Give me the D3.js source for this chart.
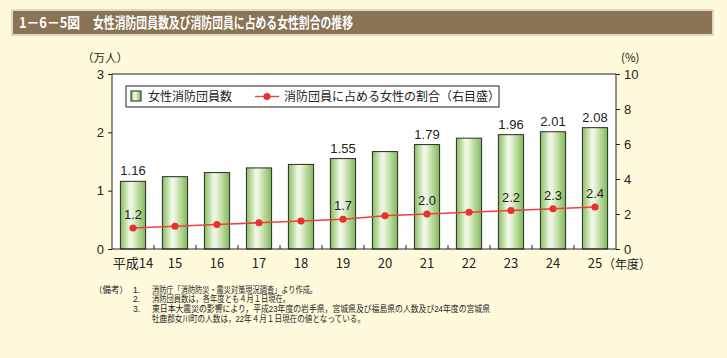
<!DOCTYPE html>
<html><head><meta charset="utf-8">
<script src="https://cdn.jsdelivr.net/npm/d3@7/dist/d3.min.js"></script>
<style>
body{margin:0;background:#fffadc;}
svg{display:block;font-family:"Noto Sans CJK JP","Noto Sans",sans-serif;}
</style></head><body>
<svg id="c" width="727" height="358"></svg>
<script>
const categories = ["平成14","15","16","17","18","19","20","21","22","23","24","25"];
const members = [1.16,1.24,1.31,1.39,1.45,1.55,1.67,1.79,1.90,1.96,2.01,2.08];
const ratio = [1.2,1.3,1.4,1.5,1.6,1.7,1.9,2.0,2.1,2.2,2.3,2.4];
const labeled = [0,5,7,9,10,11];
const leftTicks = [0,1,2,3];
const rightTicks = [0,2,4,6,8,10];
const notes = [
 ["（備考）","1.","消防庁「消防防災・震災対策現況調査」より作成。",165],
 ["","2.","消防団員数は，各年度とも４月１日現在。",138],
 ["","3.","東日本大震災の影響により，平成23年度の岩手県，宮城県及び福島県の人数及び24年度の宮城県",338],
 ["","","牡鹿郡女川町の人数は，22年４月１日現在の値となっている。",213]
];

const svg = d3.select("#c");
const L=112, R=616, T=74, B=249;

// title bar
svg.append("rect").attr("x",12).attr("y",10).attr("width",701).attr("height",25)
  .attr("fill","#8b7355").attr("stroke","#e0d8bf").attr("stroke-width",2);
svg.append("text").attr("x",19).attr("y",28).attr("fill","#fff").attr("font-size",14.5).attr("font-weight","bold")
  .attr("textLength",61).attr("lengthAdjust","spacingAndGlyphs").text("1－6－5図");
svg.append("text").attr("x",93).attr("y",28).attr("fill","#fff").attr("font-size",14.5).attr("font-weight","bold")
  .attr("textLength",260).attr("lengthAdjust","spacingAndGlyphs").text("女性消防団員数及び消防団員に占める女性割合の推移");

const defs = svg.append("defs");
const g = defs.append("linearGradient").attr("id","bg").attr("x1","0").attr("x2","1").attr("y1","0").attr("y2","0");
[[0,"#86be5e"],[0.38,"#f3f9ea"],[0.5,"#e6f2d6"],[1,"#7fb957"]].forEach(s=>g.append("stop").attr("offset",s[0]).attr("stop-color",s[1]));

const x = d3.scaleBand().domain(categories).range([L,R]).paddingInner(0.4).paddingOuter(0.2);
const yL = d3.scaleLinear().domain([0,3]).range([B,T]);
const yR = d3.scaleLinear().domain([0,10]).range([B,T]);

svg.append("rect").attr("x",L).attr("y",T).attr("width",R-L).attr("height",B-T).attr("fill","#fff");

// bars
svg.append("g").selectAll("rect").data(members).join("rect")
  .attr("x",(d,i)=>x(categories[i])).attr("y",d=>yL(d))
  .attr("width",x.bandwidth()).attr("height",d=>B-yL(d))
  .attr("fill","url(#bg)").attr("stroke","#2a2a2a").attr("stroke-width",1);

// bottom inner ticks at band boundaries
const step = x.step();
svg.append("g").selectAll("line").data(categories.slice(1)).join("line")
  .attr("x1",(d)=>x(d)-step*0.2).attr("x2",(d)=>x(d)-step*0.2)
  .attr("y1",B).attr("y2",B-4).attr("stroke","#222");

// frame lines
svg.append("line").attr("x1",L).attr("x2",L).attr("y1",T).attr("y2",B).attr("stroke","#222");
svg.append("line").attr("x1",R).attr("x2",R).attr("y1",T).attr("y2",B).attr("stroke","#222");
svg.append("line").attr("x1",L).attr("x2",R).attr("y1",T).attr("y2",T).attr("stroke","#222");
svg.append("line").attr("x1",L).attr("x2",R).attr("y1",B).attr("y2",B).attr("stroke","#222");

// left axis
const la = svg.append("g").attr("transform",`translate(${L},0)`)
  .call(d3.axisLeft(yL).tickValues(leftTicks).tickFormat(d3.format("d")).tickSize(4).tickPadding(4));
la.select(".domain").remove();
la.selectAll("text").attr("font-size",13).attr("fill","#222").attr("font-family","Liberation Sans, Arial, sans-serif");
la.selectAll("line").attr("stroke","#222");
const ra = svg.append("g").attr("transform",`translate(${R},0)`)
  .call(d3.axisRight(yR).tickValues(rightTicks).tickSize(4).tickPadding(4));
ra.select(".domain").remove();
ra.selectAll("text").attr("font-size",13).attr("fill","#222").attr("font-family","Liberation Sans, Arial, sans-serif");
ra.selectAll("line").attr("stroke","#222");

// axis unit labels
svg.append("text").attr("x",82).attr("y",62).attr("font-size",11.5).attr("fill","#222").text("（万人）");
svg.append("text").attr("x",621).attr("y",62).attr("font-size",11.5).attr("fill","#222").text("(%)");

// x labels
svg.append("g").selectAll("text").data(categories).join("text")
  .attr("x",d=>x(d)+x.bandwidth()/2).attr("y",268).attr("text-anchor","middle")
  .attr("font-size",13).attr("fill","#222").text(d=>d);
svg.append("text").attr("x",x("25")+x.bandwidth()/2+8).attr("y",268.5).attr("font-size",12).attr("fill","#222")
  .attr("font-family","'Liberation Sans','Noto Sans CJK JP',sans-serif").text("（年度）");

// line
const line = d3.line().x((d,i)=>x(categories[i])+x.bandwidth()/2).y(d=>yR(d));
svg.append("path").datum(ratio).attr("d",line).attr("fill","none").attr("stroke","#e8443a").attr("stroke-width",1.6);
svg.append("g").selectAll("circle").data(ratio).join("circle")
  .attr("cx",(d,i)=>x(categories[i])+x.bandwidth()/2).attr("cy",d=>yR(d)).attr("r",3.6).attr("fill","#e8332c");

// value labels
svg.append("g").selectAll("text").data(labeled).join("text")
  .attr("x",i=>x(categories[i])+x.bandwidth()/2).attr("y",i=>yL(members[i])-6)
  .attr("text-anchor","middle").attr("font-size",13).attr("fill","#222")
  .attr("font-family","Liberation Sans, Arial, sans-serif").text(i=>members[i].toFixed(2));
svg.append("g").selectAll("text").data(labeled).join("text")
  .attr("x",i=>x(categories[i])+x.bandwidth()/2).attr("y",i=>yR(ratio[i])-9)
  .attr("text-anchor","middle").attr("font-size",13).attr("fill","#222")
  .attr("font-family","Liberation Sans, Arial, sans-serif").text(i=>ratio[i].toFixed(1));

// legend
svg.append("rect").attr("x",126).attr("y",86).attr("width",373).attr("height",21).attr("fill","#fff").attr("stroke","#222");
svg.append("rect").attr("x",131).attr("y",91).attr("width",10).attr("height",10).attr("fill","url(#bg)").attr("stroke","#222");
svg.append("text").attr("x",148).attr("y",101).attr("font-size",12).attr("fill","#222").text("女性消防団員数");
svg.append("line").attr("x1",255).attr("x2",279).attr("y1",96.5).attr("y2",96.5).attr("stroke","#e8443a").attr("stroke-width",1.4);
svg.append("circle").attr("cx",267).attr("cy",96.5).attr("r",3.6).attr("fill","#e8332c");
svg.append("text").attr("x",284).attr("y",101).attr("font-size",12).attr("fill","#222").text("消防団員に占める女性の割合（右目盛）");

// notes
const ng = svg.append("g").attr("font-size",8.7).attr("fill","#222")
  .attr("font-family","'Liberation Sans','Noto Sans CJK JP',sans-serif");
notes.forEach((n,i)=>{
  const yy = 292.5 + i*9.8;
  if(n[0]) ng.append("text").attr("x",94).attr("y",yy).attr("textLength",34).attr("lengthAdjust","spacingAndGlyphs").text(n[0]);
  if(n[1]) ng.append("text").attr("x",133).attr("y",yy).text(n[1]);
  ng.append("text").attr("x",152).attr("y",yy).attr("textLength",n[3]).attr("lengthAdjust","spacingAndGlyphs").text(n[2]);
});
</script></body></html>
